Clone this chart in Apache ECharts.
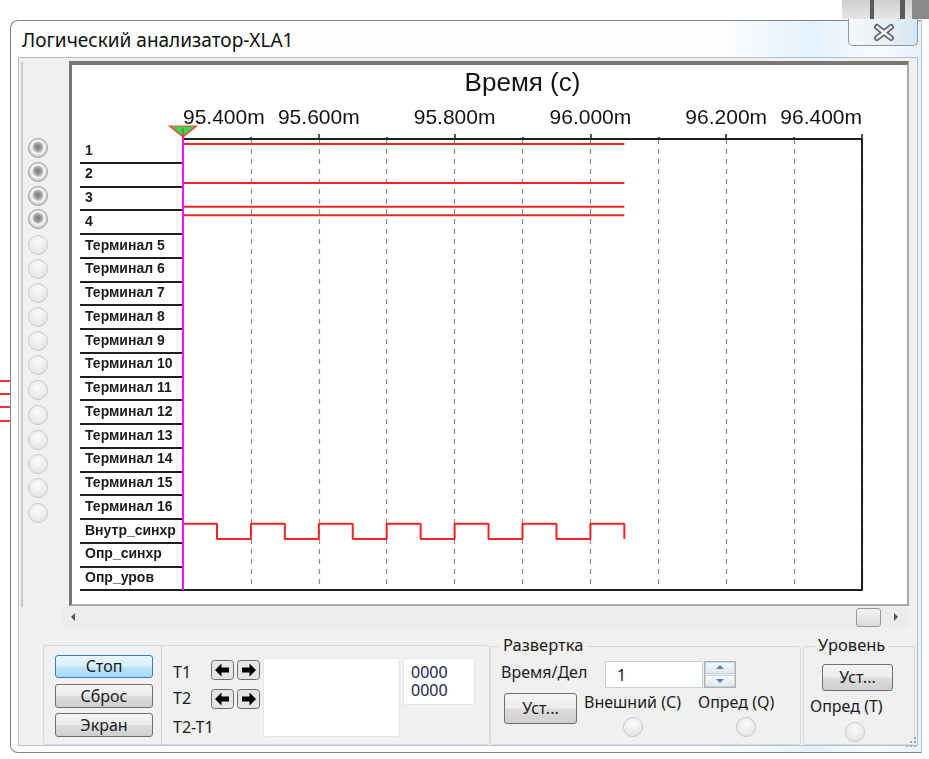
<!DOCTYPE html>
<html><head><meta charset="utf-8">
<script src="https://cdn.jsdelivr.net/npm/echarts@6/dist/echarts.min.js"></script>
<style>
html,body{margin:0;padding:0;background:#fff;}
#page{position:relative;width:929px;height:759px;overflow:hidden;background:#fff;font-family:'Noto Sans',sans-serif;}
.a{position:absolute;box-sizing:border-box;}
.t{position:absolute;font-size:16px;line-height:20px;color:#1b1b1b;white-space:nowrap;}
.btn{position:absolute;box-sizing:border-box;border:1px solid #707070;border-radius:3px;background:linear-gradient(#f4f4f4 0%,#ececec 48%,#dddddd 52%,#cfcfcf 100%);font-size:16px;color:#1b1b1b;text-align:center;}
.grp{position:absolute;box-sizing:border-box;border:1px solid #d3dbe1;border-radius:3px;}
.rb{position:absolute;box-sizing:border-box;width:20px;height:20px;border-radius:50%;border:1px solid #cacaca;background:radial-gradient(circle at 50% 35%,#fbfbfb 0,#ececec 55%,#dedede 100%);transform:translate(-50%,-50%);}
.rb.on{border:1px solid #a0a0a0;background:radial-gradient(circle at 50% 45%,#7a7a7a 0,#969696 3px,#c2c2c2 5px,#f4f4f4 6px,#f0f0f0 7px,#c8c8c8 9.5px);}
#chart{position:absolute;left:0;top:0;width:929px;height:759px;}
</style></head>
<body>
<div id="page">
  <!-- background windows at top right -->
  <div class="a" style="left:842px;top:0;width:87px;height:19px;background:linear-gradient(#cfcfcf,#e6e6e6);"></div>
  <div class="a" style="left:870px;top:0;width:4px;height:19px;background:#5a5a5a;"></div>
  <div class="a" style="left:900px;top:0;width:5px;height:19px;background:#5a5a5a;"></div>
  <div class="a" style="left:912px;top:0;width:17px;height:19px;background:#8a8a8a;"></div>
  <!-- red lines behind window -->
  <div class="a" style="left:0;top:380px;width:11px;height:1.5px;background:#f03030;"></div>
  <div class="a" style="left:0;top:393px;width:11px;height:1.5px;background:#f03030;"></div>
  <div class="a" style="left:0;top:406px;width:11px;height:1.5px;background:#f03030;"></div>
  <div class="a" style="left:0;top:420px;width:11px;height:1.5px;background:#f03030;"></div>
  <!-- window -->
  <div class="a" style="left:10px;top:20px;width:912px;height:733px;border:1px solid #7b858e;border-right-color:#b8c4ce;border-radius:8px 0 0 8px;background:linear-gradient(90deg,#fdfdfd 0%,#fdfdfd 78%,#e4f1fb 88%,#f7fbff 95%,#e9f1f7 100%);"></div>
  <div class="t" style="left:22px;top:28px;font-size:19px;line-height:24px;color:#111;">Логический анализатор-XLA1</div>
  <div class="a" style="left:848px;top:19px;width:70px;height:27px;border:1px solid #8e969d;border-top:none;border-radius:0 0 5px 5px;background:linear-gradient(90deg,#f7f9fb,#e7eef4 60%,#d4e6f4);">
    <svg width="70" height="27" style="position:absolute;left:0;top:0"><path d="M28 8 L42 19 M42 8 L28 19" stroke="#5d6369" stroke-width="6" stroke-linecap="round"/><path d="M28 8 L42 19 M42 8 L28 19" stroke="#f4f6f8" stroke-width="2.6" stroke-linecap="round"/></svg>
  </div>
  <!-- inner panel -->
  <div class="a" style="left:18px;top:57px;width:900px;height:689px;background:#f0f0f0;border:1px solid #b7c0c8;"></div>
  <div class="a" style="left:21px;top:62px;width:2px;height:545px;background:#c9c9c9;"></div>
  <!-- plot frame -->
  <div class="a" style="left:69px;top:61px;width:840px;height:545px;background:#fff;border-top:4px solid #777;border-left:3px solid #777;border-right:2px solid #a9a9a9;border-bottom:2px solid #a9a9a9;"></div>
  <!-- scrollbar -->
  <div class="a" style="left:62px;top:607px;width:847px;height:21px;background:#ececec;"></div>
  <div class="a" style="left:71px;top:613px;width:0;height:0;border-top:4px solid transparent;border-bottom:4px solid transparent;border-right:4px solid #555;"></div>
  <div class="a" style="left:856px;top:608px;width:25px;height:19px;border:1px solid #9a9a9a;border-radius:3px;background:linear-gradient(#f4f4f4,#dadada);"></div>
  <div class="a" style="left:894px;top:613px;width:0;height:0;border-top:4px solid transparent;border-bottom:4px solid transparent;border-left:4px solid #555;"></div>
  <!-- left radio column -->
  <div class="rb on" style="left:38px;top:148px;"></div>
  <div class="rb on" style="left:38px;top:172px;"></div>
  <div class="rb on" style="left:38px;top:196px;"></div>
  <div class="rb on" style="left:38px;top:219px;"></div>
  <div class="rb" style="left:38px;top:245px;"></div>
  <div class="rb" style="left:38px;top:269px;"></div>
  <div class="rb" style="left:38px;top:293px;"></div>
  <div class="rb" style="left:38px;top:317px;"></div>
  <div class="rb" style="left:38px;top:341px;"></div>
  <div class="rb" style="left:38px;top:365px;"></div>
  <div class="rb" style="left:38px;top:390px;"></div>
  <div class="rb" style="left:38px;top:415px;"></div>
  <div class="rb" style="left:38px;top:440px;"></div>
  <div class="rb" style="left:38px;top:464px;"></div>
  <div class="rb" style="left:38px;top:488px;"></div>
  <div class="rb" style="left:38px;top:513px;"></div>
  <!-- bottom group 1 -->
  <div class="grp" style="left:43px;top:645px;width:447px;height:100px;"></div>
  <div class="a" style="left:161px;top:645px;width:1px;height:100px;background:#c9d1d7;"></div>
  <div class="btn" style="left:55px;top:655px;width:98px;height:23px;line-height:21px;border-color:#3c7fb1;background:linear-gradient(#e6f5fd 0%,#d9f0fc 48%,#bee6fd 52%,#a7d9f5 100%);">Стоп</div>
  <div class="btn" style="left:55px;top:684px;width:98px;height:24px;line-height:22px;">Сброс</div>
  <div class="btn" style="left:55px;top:713px;width:98px;height:24px;line-height:22px;">Экран</div>
  <div class="t" style="left:173px;top:662px;">T1</div>
  <div class="t" style="left:173px;top:688px;">T2</div>
  <div class="t" style="left:173px;top:717px;">T2-T1</div>
  <svg class="a" style="left:211px;top:660px;" width="50" height="20"><rect x="0.5" y="0.5" width="22" height="19" rx="3" fill="#e6e6e6" stroke="#6e6e6e"/><rect x="26.5" y="0.5" width="22" height="19" rx="3" fill="#e6e6e6" stroke="#6e6e6e"/><path d="M4 10 L10.5 3.5 L10.5 7.5 L18 7.5 L18 12.5 L10.5 12.5 L10.5 16.5 Z" fill="#000"/><path d="M45 10 L38.5 3.5 L38.5 7.5 L31 7.5 L31 12.5 L38.5 12.5 L38.5 16.5 Z" fill="#000"/></svg>
  <svg class="a" style="left:211px;top:689px;" width="50" height="20"><rect x="0.5" y="0.5" width="22" height="19" rx="3" fill="#e6e6e6" stroke="#6e6e6e"/><rect x="26.5" y="0.5" width="22" height="19" rx="3" fill="#e6e6e6" stroke="#6e6e6e"/><path d="M4 10 L10.5 3.5 L10.5 7.5 L18 7.5 L18 12.5 L10.5 12.5 L10.5 16.5 Z" fill="#000"/><path d="M45 10 L38.5 3.5 L38.5 7.5 L31 7.5 L31 12.5 L38.5 12.5 L38.5 16.5 Z" fill="#000"/></svg>
  <div class="a" style="left:263px;top:658px;width:137px;height:79px;background:#fff;border:1px solid #e2e6e9;border-radius:2px;"></div>
  <div class="a" style="left:403px;top:658px;width:72px;height:47px;background:#fff;border:1px solid #e2e6e9;border-radius:2px;"></div>
  <div class="t" style="left:411px;top:662px;color:#2a1b48;">0000</div>
  <div class="t" style="left:411px;top:680px;color:#2a1b48;">0000</div>
  <!-- Развертка -->
  <div class="grp" style="left:490px;top:646px;width:311px;height:99px;"></div>
  <div class="t" style="left:499px;top:635px;padding:0 4px;background:#f0f0f0;font-size:16.5px;">Развертка</div>
  <div class="t" style="left:501px;top:662px;">Время/Дел</div>
  <div class="a" style="left:605px;top:661px;width:98px;height:27px;background:#fff;border:1px solid #c6d0d8;"></div>
  <div class="t" style="left:617px;top:665px;">1</div>
  <div class="a" style="left:704px;top:661px;width:32px;height:27px;border:1px solid #a9b4bd;background:#eef1f4;"></div>
  <div class="a" style="left:705px;top:662px;width:30px;height:12px;border:1px solid #c8d1d8;background:linear-gradient(#f8f9fa,#e3e8ec);"></div>
  <div class="a" style="left:705px;top:675px;width:30px;height:12px;border:1px solid #c8d1d8;background:linear-gradient(#f8f9fa,#e3e8ec);"></div>
  <div class="a" style="left:716px;top:665px;width:0;height:0;border-left:4px solid transparent;border-right:4px solid transparent;border-bottom:4px solid #5b7fbd;"></div>
  <div class="a" style="left:716px;top:679px;width:0;height:0;border-left:4px solid transparent;border-right:4px solid transparent;border-top:4px solid #5b7fbd;"></div>
  <div class="btn" style="left:504px;top:693px;width:73px;height:31px;line-height:29px;">Уст...</div>
  <div class="t" style="left:584px;top:692px;">Внешний (С)</div>
  <div class="t" style="left:698px;top:692px;">Опред (Q)</div>
  <div class="rb" style="left:633px;top:727px;"></div>
  <div class="rb" style="left:746px;top:727px;"></div>
  <!-- Уровень -->
  <div class="grp" style="left:803px;top:646px;width:112px;height:99px;"></div>
  <div class="t" style="left:815px;top:635px;padding:0 3px;background:#f0f0f0;font-size:16.5px;">Уровень</div>
  <div class="btn" style="left:822px;top:664px;width:71px;height:27px;line-height:25px;">Уст...</div>
  <div class="t" style="left:810px;top:696px;">Опред (T)</div>
  <div class="rb" style="left:855px;top:732px;"></div>
  <!-- grip -->
  <svg class="a" style="left:903px;top:736px;" width="16" height="14"><g fill="#a7afb6"><rect x="11" y="1" width="2" height="2"/><rect x="11" y="5" width="2" height="2"/><rect x="7" y="5" width="2" height="2"/><rect x="11" y="9" width="2" height="2"/><rect x="7" y="9" width="2" height="2"/><rect x="3" y="9" width="2" height="2"/></g></svg>

  <div id="chart"></div>
</div>
<script>
// ---- data ----
const channelNames = ['1','2','3','4','Терминал 5','Терминал 6','Терминал 7','Терминал 8','Терминал 9','Терминал 10','Терминал 11','Терминал 12','Терминал 13','Терминал 14','Терминал 15','Терминал 16','Внутр_синхр','Опр_синхр','Опр_уров'];
const channelLevels = [1, 0, 0, 1];          // channels 1..4, constant levels
const sampleStart = 95.40;                   // ms
const sampleEnd = 96.05;                     // ms
const clockTimes = [95.40,95.45,95.50,95.55,95.60,95.65,95.70,95.75,95.80,95.85,95.90,95.95,96.00,96.05];
const clockLevels = [1,0,1,0,1,0,1,0,1,0,1,0,1,0];
const clockRow = 16;                         // index of "Внутр_синхр"
const cursorT1 = 95.40;
const timeMin = 95.4, timeMax = 96.4, labelStep = 0.2;

// ---- chart ----
const HIGH = 0.21, LOW = 0.85;
const lvl = (row, v) => row + (v ? HIGH : LOW);
const FONT = "'Liberation Sans', Arial, sans-serif";
const RED = '#f02424';

const series = [];
channelLevels.forEach((v, i) => {
  series.push({type:'line', yAxisIndex:1, symbol:'none', silent:true,
    data:[[sampleStart, lvl(i, v)], [sampleEnd, lvl(i, v)]],
    lineStyle:{color:RED, width:2}});
});
series.push({type:'line', yAxisIndex:1, step:'end', symbol:'none', silent:true,
  data: clockTimes.map((t, i) => [t, lvl(clockRow, clockLevels[i])]),
  lineStyle:{color:RED, width:2}});
series.push({type:'line', yAxisIndex:1, symbol:'none', silent:true, clip:false, z:5,
  data:[[cursorT1, -0.45], [cursorT1, channelNames.length]],
  lineStyle:{color:'#ff10ff', width:2}});
series.push({type:'scatter', yAxisIndex:1, silent:true, clip:false, z:6,
  data:[[cursorT1, -0.32]], symbol:'triangle', symbolRotate:180, symbolSize:[27, 11],
  itemStyle:{color:'#1dc41d', borderColor:'#ff2a2a', borderWidth:1.5}});

const gridLine = {color:'#8c8c8c', type:[5,5], width:1.2};
const option = {
  animation:false,
  backgroundColor:'transparent',
  grid:{left:183, top:139, width:679, height:451},
  xAxis:[{
    type:'value', position:'top', min:timeMin, max:timeMax, interval:labelStep,
    name:'Время (с)', nameLocation:'middle', nameGap:42,
    nameTextStyle:{fontSize:26, color:'#141414', fontFamily:FONT},
    axisLine:{show:true, lineStyle:{color:'#1e1e1e', width:2}},
    axisTick:{show:true, length:5, lineStyle:{color:'#1e1e1e', width:1.5}},
    minorTick:{show:true, splitNumber:2, length:2, lineStyle:{color:'#1e1e1e', width:1.5}},
    splitLine:{show:true, lineStyle:gridLine},
    minorSplitLine:{show:true, lineStyle:gridLine},
    axisLabel:{formatter:v => v.toFixed(3) + 'm', fontSize:21, color:'#141414', fontFamily:FONT,
      margin:10, alignMinLabel:'left', alignMaxLabel:'right'}
  },{
    type:'value', position:'bottom', min:timeMin, max:timeMax,
    axisLine:{show:true, lineStyle:{color:'#1e1e1e', width:2}},
    axisTick:{show:false}, axisLabel:{show:false}, splitLine:{show:false}
  }],
  yAxis:[{
    type:'category', data:channelNames, inverse:true, position:'left', boundaryGap:true,
    axisLine:{show:false},
    axisTick:{show:true, length:103, interval:(i) => i !== 0, lineStyle:{color:'#1e1e1e', width:2}},
    axisLabel:{interval:0, align:'left', margin:98, fontSize:14, fontWeight:'bold', color:'#1c1c1c', fontFamily:FONT, padding:[3,0,0,0]},
    splitLine:{show:false}
  },{
    type:'value', inverse:true, min:0, max:channelNames.length, position:'right',
    axisLine:{show:true, lineStyle:{color:'#1e1e1e', width:2}},
    axisTick:{show:false}, axisLabel:{show:false}, splitLine:{show:false}
  }],
  series
};
const chart = echarts.init(document.getElementById('chart'), null, {renderer:'canvas'});
chart.setOption(option);
</script>
</body></html>
